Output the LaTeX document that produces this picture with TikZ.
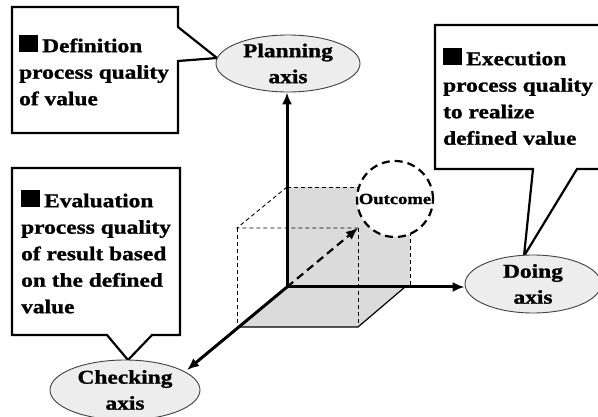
\documentclass[tikz,border=0pt]{standalone}
\usepackage{fontspec}
\setmainfont[FakeStretch=1.2, BoldFeatures={FakeBold=1.2}]{Liberation Serif}
\usetikzlibrary{shapes.geometric,arrows.meta}
\newcommand\sqmark{\rule{19pt}{17pt}\hspace{4pt}}
\begin{document}
\begin{tikzpicture}[x=1pt,y=-1pt,
  txt/.style={font=\fontsize{19.5}{26.5}\selectfont\bfseries, inner sep=0pt, align=left, anchor=north west},
  axisellipse/.style={ellipse, draw=black!75, line width=0.9pt, fill=black!7, inner sep=0pt, align=center, font=\fontsize{19.5}{26}\selectfont\bfseries},
  callout/.style={draw=black, line width=2.2pt, fill=white, line join=miter},
  axisline/.style={line width=3pt, -{Latex[length=12pt,width=10pt]}},
  cubeline/.style={line width=0.9pt, dash pattern=on 4pt off 3pt},
  floorline/.style={line width=1.2pt},
  shade/.style={fill=black!14, draw=none},
]
\useasboundingbox (0,0) rectangle (598,417);

% cube geometry
\coordinate (O) at (287,287);
\coordinate (bt) at (287,187);
\coordinate (br) at (410,187);
\coordinate (brb) at (410,287);
\coordinate (ftl) at (237,228);
\coordinate (ftr) at (358,228);
\coordinate (fbl) at (237,327);
\coordinate (fbr) at (358,327);
\coordinate (fl1) at (405,287);
\coordinate (fl2) at (358,327);
\coordinate (fl3) at (240,327);

\fill[shade] (bt) rectangle (brb);
\fill[shade] (O) -- (fl1) -- (fl2) -- (fl3) -- cycle;
\draw[cubeline] (bt) -- (br) -- (brb);
\draw[cubeline] (bt) -- (ftl) -- (ftr);
\draw[cubeline] (ftl) -- (fbl);
\draw[cubeline] (ftr) -- (fbr);
\draw[floorline] (fl1) -- (fl2) -- (fl3);

% outcome
\node[circle, draw=black, line width=2.2pt, dash pattern=on 8pt off 5pt, fill=white, minimum size=76pt, inner sep=0pt, font=\fontsize{15.5}{18}\selectfont\bfseries] (outc) at (395,199) {Outcome};

% callouts
\coordinate (tip1) at (217,58);
\coordinate (tip2) at (524,256);
\coordinate (tip3) at (128,360);
\draw[callout] (12,7) -- (178,7) -- (178,27) -- (tip1) -- (178,61) -- (178,133) -- (12,133) -- cycle;
\draw[callout] (435,25) -- (612,25) -- (612,169) -- (577,169) -- (tip2) -- (533,169) -- (435,169) -- cycle;
\draw[callout] (12,168) -- (180,168) -- (180,335) -- (152,335) -- (tip3) -- (107,335) -- (12,335) -- cycle;

\node[txt] (t1) at (19,35) {\sqmark Definition\\process quality\\of value};
\node[txt] (t2) at (443,48) {\sqmark Execution\\process quality\\to realize\\defined value};
\node[txt] (t3) at (21,190) {\sqmark Evaluation\\process quality\\of result based\\on the defined\\value};

% axis ellipses
\node[axisellipse, minimum width=144pt, minimum height=57pt] (plan) at (288,63.5) {Planning\\axis};
\node[axisellipse, minimum width=136pt, minimum height=58pt] (doing) at (533,284) {Doing\\axis};
\node[axisellipse, minimum width=150pt, minimum height=60pt] (check) at (125,390) {Checking\\axis};

% axes
\coordinate (ctip) at (187,370);
\draw[axisline] (O) -- (O |- plan.south);
\draw[axisline] (O) -- (doing.west |- O);
\draw[axisline] (O) -- (ctip);
\draw[line width=2.2pt, dash pattern=on 8pt off 5pt, -{Latex[length=12pt,width=10pt]}] (O) -- (ftr);
\end{tikzpicture}
\end{document}
